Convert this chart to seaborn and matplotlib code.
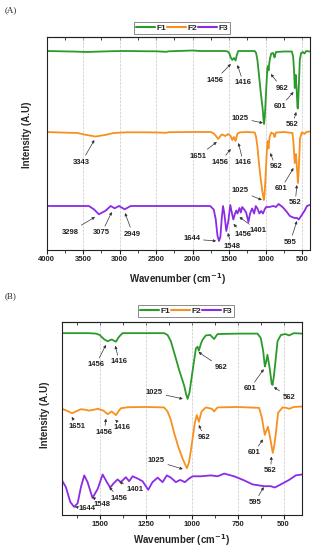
import numpy as np
import pandas as pd
import matplotlib
matplotlib.use("Agg")
import matplotlib.pyplot as plt
from matplotlib.lines import Line2D
import seaborn as sns

# ---------------- data ----------------
samples = ["F1", "F2", "F3"]

F1_wn = [4000, 3800, 3600, 3450, 3300, 3100, 2900, 2700, 2500, 2360, 2330, 2200, 2000, 1900,
         1750, 1650, 1560, 1520, 1500, 1475, 1457, 1435, 1412, 1395, 1376, 1300, 1200, 1150,
         1131, 1113, 1086, 1068, 1041, 1030, 1022, 1012, 995, 977, 968, 961, 950, 941, 923,
         899, 885, 878, 870, 859, 750, 642, 624, 611, 602, 595, 588, 575, 565, 560, 553, 546,
         533, 515, 490, 470, 444, 400]
F1_depth = [0, 0.3, 0.6, 1, 0.6, 0.2, 0, 0.2, 0.3, 0.8, 0.3, 0, -0.5, 0,
            0, 0, 0, 0.5, 2, 7, 9, 7, 9.5, 4, 0, 0, 0, 0,
            2, 9, 28, 41, 58, 68, 73, 66, 42, 17, 15, 19.5, 12, 7.5, 2.5,
            2, 5, 6.5, 4, 1, 0.5, 0.5, 5.5, 20, 37, 32, 24, 40, 56, 57.5, 48, 35,
            9, 2, 1, 2.5, 0, 0.5]

F2_wn = [4000, 3800, 3575, 3450, 3330, 3200, 3081, 2900, 2600, 2360, 2330, 2000, 1750, 1711,
         1680, 1650, 1630, 1602, 1580, 1557, 1530, 1511, 1480, 1457, 1435, 1412, 1395, 1385,
         1348, 1250, 1150, 1131, 1113, 1095, 1073, 1050, 1035, 1026, 1015, 1004, 983, 972,
         961, 950, 946, 923, 890, 878, 870, 859, 750, 633, 618, 610, 602, 595, 585, 570, 559,
         550, 542, 530, 506, 485, 470, 444, 400]
F2_depth = [0, 0.5, 1, 3, 4.5, 3, 1, 0.3, 0.3, 0.8, 0.2, 0, 0, 1.5,
            4, 7, 5, 2.5, 3, 4, 3, 2, 4, 8, 5, 9, 4, 1.5,
            0.3, 0, 0.5, 5, 14.5, 29, 44, 57, 64, 68, 62, 48, 18, 9,
            16.5, 8, 5, 0.5, 2, 5, 3, 0.5, 0, 1, 12, 22, 31, 27, 22, 38, 51,
            42, 29, 6.5, 0.5, 1, 2, 0, -0.5]

F3_wn = [4000, 3700, 3420, 3351, 3283, 3191, 3122, 3067, 3008, 2930, 2848, 2500, 2000, 1760,
         1711, 1684, 1660, 1639, 1620, 1602, 1584, 1566, 1539, 1511, 1484, 1461, 1443, 1425,
         1403, 1385, 1358, 1340, 1321, 1294, 1267, 1236, 1213, 1185, 1158, 1135, 1113, 1086,
         1062, 1037, 1014, 995, 950, 896, 859, 823, 769, 715, 669, 606, 570, 548, 515, 470,
         434, 400]
F3_depth = [0, 0, 0, 3.3, 8.3, 4.7, 0, 2.3, 0, 3.3, 0, 0, 0, 0,
            3.5, 13, 29.5, 35, 31, 13, 0, 7.5, 25, 15, -1, 7.5, 13.5, 9,
            4.5, 7.5, 2, 6.5, 1, 3.5, 6.5, 16, 7.5, 2.5, 7.5, 0, 2.5, 7.5,
            5, 7.5, 3.5, 1, 1, 0, 1, -2, 1, 5.5, 10, 12, 12, 13.5, 10, 5,
            0, -1]

# peak labels: (label, arrow-tip wavenumber, tip y, text wavenumber, text y)
peaks_A = [
    ("1456", 1476, 186, 1692, 170), ("1416", 1386, 185, 1304, 167),
    ("962", 929, 176, 778, 162), ("1025", 1038, 127, 1349, 132),
    ("601", 619, 158, 801, 143), ("562", 582, 138, 633, 125),
    ("3343", 3345, 110, 3518, 88), ("1651", 1669, 108, 1921, 94),
    ("1456", 1477, 101, 1623, 88), ("1416", 1373, 107, 1304, 87),
    ("962", 938, 97, 860, 83), ("1025", 1052, 50, 1349, 59),
    ("601", 619, 82, 792, 61), ("562", 573, 65, 596, 47),
    ("3298", 3336, 33, 3678, 18), ("3075", 3107, 38, 3244, 17),
    ("2949", 2925, 37, 2819, 16), ("1644", 1678, 9, 2011, 11),
    ("1548", 1518, 17, 1463, 4), ("1456", 1441, 26, 1304, 16),
    ("1401", 1359, 33, 1099, 19), ("595", 573, 29, 664, 8),
]
peaks_B = [
    ("1456", 1466, 189, 1521, 167), ("1416", 1415, 188, 1394, 170),
    ("962", 963, 181, 839, 164), ("1025", 1048, 129, 1203, 136),
    ("601", 608, 162, 684, 140), ("562", 553, 142, 470, 131),
    ("1651", 1652, 109, 1621, 98), ("1456", 1466, 107, 1475, 92),
    ("1416", 1415, 106, 1376, 97), ("1025", 1048, 51, 1193, 60),
    ("962", 961, 100, 930, 86), ("601", 612, 84, 663, 69),
    ("562", 566, 65, 571, 49),
    ("1644", 1634, 9, 1567, 7), ("1548", 1539, 20, 1488, 12),
    ("1456", 1448, 31, 1394, 18.5), ("1401", 1394, 37, 1306, 28),
    ("595", 608, 31, 657, 14),
]

xticks_A = [4000, 3500, 3000, 2500, 2000, 1500, 1000, 500]
xticks_B = [1500, 1250, 1000, 750, 500]

# ---------------- styling ----------------
colors = {"F1": "#2b9a2b", "F2": "#f7901e", "F3": "#8b2be6"}
offsets_A = {"F1": 99, "F2": 18, "F3": -56}
offsets_B = {"F1": 102, "F2": 20, "F3": -56}

sns.set_theme(style="white")
plt.rcParams["font.family"] = ["Liberation Sans", "DejaVu Sans"]
plt.rcParams["font.weight"] = "bold"
plt.rcParams["axes.labelweight"] = "bold"

frames = []
for name, wn, dp in [("F1", F1_wn, F1_depth), ("F2", F2_wn, F2_depth), ("F3", F3_wn, F3_depth)]:
    frames.append(pd.DataFrame({"wn": wn, "T": 100 - np.asarray(dp, float), "sample": name}))
df = pd.concat(frames, ignore_index=True)

fig = plt.figure(figsize=(3.16, 5.5), dpi=100)
axA = fig.add_axes([46.5 / 316, 1 - 250 / 550, 263 / 316, 213 / 550])
axB = fig.add_axes([62 / 316, 1 - 515 / 550, 240 / 316, 193 / 550])


def draw(ax, offsets, xlim, ylim, xticks, minor, peaks, legend_x, legend_y,
         label_xy, xlabelpad):
    d = df.copy()
    d["y"] = d["T"] + d["sample"].map(offsets)
    sns.lineplot(data=d, x="wn", y="y", hue="sample", palette=colors, ax=ax,
                 lw=1.3, estimator=None, sort=True, legend=False)
    ax.set_xlim(*xlim)
    ax.set_ylim(*ylim)
    ax.set_yticks([])
    ax.set_xticks(xticks)
    ax.set_xticks(minor, minor=True)
    ax.tick_params(axis="x", which="major", direction="out", length=3, width=0.8,
                   labelsize=5.5, pad=1.5, bottom=True, colors="#222222")
    ax.tick_params(axis="x", which="minor", direction="out", length=1.8, width=0.6,
                   bottom=True)
    for lab in ax.get_xticklabels():
        lab.set_fontweight("bold")
    ax.grid(axis="x", which="major", ls="--", lw=0.5, color="#c8c8c8")
    for s in ax.spines.values():
        s.set_linewidth(0.8)
        s.set_color("#222222")
    sec = ax.secondary_xaxis("top")
    sec.set_xticks(xticks)
    sec.set_xticks(minor, minor=True)
    sec.tick_params(which="both", direction="in", length=2, width=0.6, labeltop=False)
    sec.spines["top"].set_linewidth(0.8)
    ax.set_xlabel("Wavenumber (cm$^{\\mathbf{-1}}$)", fontsize=7, fontweight="bold",
                  labelpad=xlabelpad)
    ax.set_ylabel("Intensity (A.U)", fontsize=7, fontweight="bold")
    ax.yaxis.set_label_coords(*label_xy)
    handles = [Line2D([], [], color=colors[s], lw=1.5) for s in samples]
    leg = ax.legend(handles, samples, loc="lower center", ncol=3,
                    bbox_to_anchor=(legend_x, legend_y), frameon=True, fancybox=False,
                    edgecolor="#555555", fontsize=6, handlelength=2.3, handletextpad=0.15,
                    columnspacing=0.1, borderpad=0.25, borderaxespad=0)
    leg.get_frame().set_linewidth(0.6)
    for t in leg.get_texts():
        t.set_fontweight("bold")
    for lab, tx, ty, sx, sy in peaks:
        ax.annotate(lab, xy=(tx, ty), xytext=(sx, sy), ha="center", va="center",
                    fontsize=5.5, fontweight="bold", color="#222222",
                    arrowprops=dict(arrowstyle="-|>", color="#333333", lw=0.5,
                                    mutation_scale=4, shrinkA=0, shrinkB=0))


draw(axA, offsets_A, (4000, 400), (0, 213), xticks_A, np.arange(3750, 400, -500),
     peaks_A, 0.515, 1.013, (-0.055, 0.54), 5.5)
draw(axB, offsets_B, (1705, 400), (0, 214.4), xticks_B, np.arange(1625, 400, -250),
     peaks_B, 0.517, 1.026, (-0.052, 0.52), 2.5)

fig.text(5 / 316, 1 - 10 / 550, "(A)", fontsize=6.5, family="Liberation Serif",
         fontweight="normal", va="center")
fig.text(5 / 316, 1 - 296 / 550, "(B)", fontsize=6.5, family="Liberation Serif",
         fontweight="normal", va="center")

fig.savefig("out.png", dpi=100)
